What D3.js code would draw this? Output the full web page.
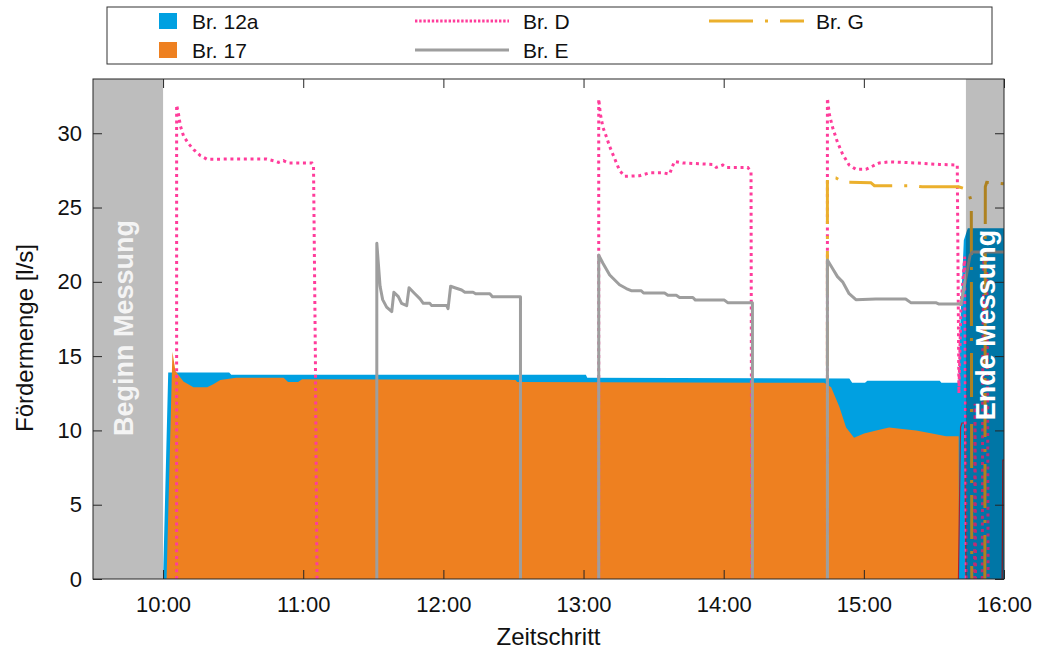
<!DOCTYPE html>
<html><head><meta charset="utf-8">
<script src="https://cdn.jsdelivr.net/npm/d3@7/dist/d3.min.js"></script>
<style>
body{margin:0;background:#fff}
text{font-family:"Liberation Sans",Arial,Helvetica,sans-serif}
</style>
</head><body>
<svg id="chart" width="1042" height="653"></svg>
<script>
// ---- data (time = minutes after 10:00, value = l/s) ----
const xTickValues = [0, 60, 120, 180, 240, 300, 360];
const xTickLabels = ["10:00", "11:00", "12:00", "13:00", "14:00", "15:00", "16:00"];
const yTickValues = [0, 5, 10, 15, 20, 25, 30];
const seriesNames = ["Br. 12a", "Br. 17", "Br. D", "Br. E", "Br. G"];
const bandBegin = [-30, 0];
const bandEnd = [343.7, 360];
const bandLabels = ["Beginn Messung", "Ende Messung"];

const br12a = [[0,0],[2.2,13.9],[28.3,13.9],[29.2,13.75],[181,13.75],[181.6,13.55],[293.8,13.5],[295,13.2],
  [300.5,13.2],[301.5,13.35],[332.5,13.35],[333.2,13.2],[340.5,13.2],[341.5,18],[342.8,22.8],[344.5,23.6],[360,23.6]];

const br17 = [[1.5,0],[4.0,15.3],[5.3,14.0],[8.7,13.3],[13.0,12.9],[18.9,12.9],[21.5,13.1],[24.5,13.4],[31.3,13.55],
  [51.6,13.55],[53.5,13.25],[57.8,13.25],[59.5,13.45],[150.9,13.4],[151.6,13.25],[283,13.2],[286,12.9],[289.5,11.6],
  [292.4,10.2],[295.8,9.5],[300.1,9.8],[305.3,10.0],[310.8,10.2],[316.4,10.1],[322.4,10.0],[329.2,9.8],[335.2,9.6],
  [340.6,9.6],[340.7,0]];

const br17Edge = [[340.5,0],[341.4,10.2],[342,10.5],[343.2,10.5],[343.7,0],null,[359.2,0],[359.5,8],[360,8]];

const brD = [[5.8,0],[5.8,31.9],[6.6,31.3],[7.4,30.5],[8.8,29.8],[10.9,29.3],[13.1,28.9],[15.9,28.5],[18.8,28.25],
  [27.4,28.26],[44.4,28.26],[47.3,28.15],[49.4,28.04],[51.5,28.15],[53.7,28.0],[63.7,28.0],[64.4,27.8],[65.2,15],[65.9,0],null,
  [186.5,0],[186.5,32.3],[187.2,31.3],[188.3,30.4],[189.7,29.8],[191.2,29.1],[193.3,28.3],[195.4,27.5],[197.6,27.1],
  [204.0,27.14],[208.3,27.34],[213.9,27.34],[216.8,27.25],[218.9,28.1],[222.5,28.0],[235.3,27.9],[236.8,27.7],[239.6,27.86],
  [241.0,27.7],[250.3,27.7],[251.7,27.4],[252.0,0],null,
  [284.4,0],[284.4,32.35],[285.2,31.3],[286.6,30.4],[288.7,29.4],[290.9,28.6],[293.7,27.86],[296.6,27.57],[300.9,27.57],
  [306.6,28.0],[310.9,28.07],[322.3,28.0],[332.2,27.9],[340.0,27.86],[340.7,12.5],[341.6,18.5],[343.2,21.7],[343.8,0],null,
  [347.4,0],[347.6,11.8],[347.8,0],null,[350.7,0],[350.9,15],[351.4,21.5],[352.6,21.5],[353,12.2],[353.2,0]];

const brE = [[91.5,0],[91.5,22.6],[92.9,19.7],[94.0,18.8],[95.7,18.3],[97.9,18.0],[98.8,19.3],[100.7,19.0],[102.1,18.55],
  [104.3,18.4],[105.3,19.6],[107.8,19.2],[110,18.85],[111.4,18.55],[114.2,18.55],[115,18.4],[121.4,18.4],[122,18.2],
  [123.1,19.7],[124.9,19.6],[127.8,19.45],[129.2,19.3],[132.7,19.3],[133.8,19.2],[139.9,19.2],[141,19.0],[153,19.0],[153,0],null,
  [186.5,0],[186.5,21.8],[188.3,21.25],[191.2,20.46],[195.4,19.8],[198.3,19.55],[200.4,19.4],[204.7,19.4],[205.7,19.25],
  [214.7,19.25],[216.1,19.1],[219.7,19.1],[221.1,18.95],[226.8,18.95],[227.9,18.77],[240.3,18.77],[241.7,18.6],[252.3,18.6],[252.3,0],null,
  [284.4,0],[284.4,21.47],[286.6,20.9],[288.7,20.35],[290.9,20.0],[293.7,19.2],[296.6,18.8],[305.1,18.85],[317.9,18.85],
  [320.1,18.6],[330.8,18.6],[332.2,18.5],[341.6,18.5],[345.5,21.8],[346.5,22.0],[360,22.0]];

const brG = [[284.4,0],[284.4,27.1],[288,27.0],[291,26.7],[303,26.67],[304.5,26.47],[321,26.47],[325,26.4],[340.5,26.4],
  [344.5,26.2],[346,25.4],[346.2,0],null,[351.8,0],[352,26.4],[352.6,26.7],[360,26.6]];

// ---- styles ----
const C = {blue:"#00A0E1", orange:"#EE8020", pink:"#FF3C9B", grey:"#9E9E9E", gold:"#EBB02D", edge:"#B0202E", axis:"#262626"};

const svg = d3.select("#chart");
const m = {left:93, right:1004, top:79, bottom:579};
const x = d3.scaleLinear().domain([-30, 360]).range([m.left, m.right]);
const y = d3.scaleLinear().domain([0, 33.65]).range([m.bottom, m.top]);

svg.append("defs").append("clipPath").attr("id","clip")
  .append("rect").attr("x",m.left).attr("y",m.top).attr("width",m.right-m.left).attr("height",m.bottom-m.top);

const plot = svg.append("g").attr("clip-path","url(#clip)");
const area = d3.area().x(d=>x(d[0])).y0(y(0)).y1(d=>y(d[1]));
const line = d3.line().defined(d=>d!=null).x(d=>x(d[0])).y(d=>y(d[1]));

plot.append("path").attr("d", area(br12a)).attr("fill", C.blue);
plot.append("path").attr("d", area(br17)).attr("fill", C.orange);
plot.append("path").attr("d", line(br17Edge)).attr("fill","none").attr("stroke",C.edge).attr("stroke-width",1.2);
plot.append("path").attr("d", line(brD)).attr("fill","none").attr("stroke",C.pink).attr("stroke-width",3).attr("stroke-dasharray","3 3.7");
plot.append("path").attr("d", line(brG)).attr("fill","none").attr("stroke",C.gold).attr("stroke-width",3).attr("stroke-dasharray","44 12 3 12");
plot.append("path").attr("d", line(brE)).attr("fill","none").attr("stroke",C.grey).attr("stroke-width",3).attr("stroke-linejoin","round");

// bands (overlay)
[bandBegin, bandEnd].forEach((b,i)=>{
  plot.append("rect").attr("x",x(b[0])).attr("y",m.top).attr("width",x(b[1])-x(b[0])).attr("height",m.bottom-m.top)
    .attr("fill","#000").attr("fill-opacity",0.26);
});
const bandTextY = [328, 325];
[bandBegin, bandEnd].forEach((b,i)=>{
  const cx = (x(b[0])+x(b[1]))/2 + (i==0 ? -4 : 1);
  svg.append("text").attr("transform",`translate(${cx},${bandTextY[i]}) rotate(-90)`)
    .attr("text-anchor","middle").attr("dominant-baseline","central")
    .attr("font-size",27).attr("font-weight","bold").attr("fill", i==0 ? "#F4F4F4" : "#FFFFFF")
    .text(bandLabels[i]);
});

// axes
const fmtX = (d)=> xTickLabels[xTickValues.indexOf(d)];
const gx = svg.append("g").attr("transform",`translate(0,${m.bottom})`)
  .call(d3.axisBottom(x).tickValues(xTickValues).tickFormat(fmtX).tickSizeInner(-9).tickSizeOuter(0).tickPadding(17));
const gy = svg.append("g").attr("transform",`translate(${m.left},0)`)
  .call(d3.axisLeft(y).tickValues(yTickValues).tickSizeInner(-9).tickSizeOuter(0).tickPadding(11));
svg.append("g").attr("transform",`translate(0,${m.top})`)
  .call(d3.axisTop(x).tickValues(xTickValues).tickFormat("").tickSizeInner(-9).tickSizeOuter(0));
svg.append("g").attr("transform",`translate(${m.right},0)`)
  .call(d3.axisRight(y).tickValues(yTickValues).tickFormat("").tickSizeInner(-9).tickSizeOuter(0));
svg.selectAll(".domain").remove();
svg.selectAll(".tick line").attr("stroke",C.axis);
svg.selectAll(".tick text").attr("font-size",22).attr("fill","#111").attr("font-family",'"Liberation Sans",Arial,sans-serif');
svg.append("rect").attr("x",m.left).attr("y",m.top).attr("width",m.right-m.left).attr("height",m.bottom-m.top)
  .attr("fill","none").attr("stroke",C.axis).attr("stroke-width",1);

svg.append("text").attr("x",(m.left+m.right)/2).attr("y",645).attr("text-anchor","middle")
  .attr("font-size",24).attr("fill","#111").text("Zeitschritt");
svg.append("text").attr("transform",`translate(33,338) rotate(-90)`).attr("text-anchor","middle")
  .attr("font-size",24).attr("fill","#111").text("Fördermenge [l/s]");

// legend
const lg = svg.append("g");
lg.append("rect").attr("x",107).attr("y",7).attr("width",885).attr("height",57).attr("fill","#fff").attr("stroke","#333");
const rows = [21, 50];
const legendItems = [
  {name:seriesNames[0], type:"box", color:C.blue, col:0, row:0},
  {name:seriesNames[1], type:"box", color:C.orange, col:0, row:1},
  {name:seriesNames[2], type:"line", color:C.pink, dash:"2.4 1.8", col:1, row:0},
  {name:seriesNames[3], type:"line", color:C.grey, dash:null, col:1, row:1},
  {name:seriesNames[4], type:"line", color:C.gold, dash:"44 12 3 12", col:2, row:0},
];
const colSym = [[159,177],[415,509],[709,804]];
const colText = [192, 523, 816];
legendItems.forEach(it=>{
  const cy = rows[it.row];
  const [a,b] = colSym[it.col];
  if(it.type=="box"){
    lg.append("rect").attr("x",a).attr("y",cy-8).attr("width",b-a).attr("height",16).attr("fill",it.color);
  } else {
    lg.append("line").attr("x1",a).attr("x2",b).attr("y1",cy).attr("y2",cy).attr("stroke",it.color)
      .attr("stroke-width",3).attr("stroke-dasharray",it.dash);
  }
  lg.append("text").attr("x",colText[it.col]).attr("y",cy).attr("dy","0.36em").attr("font-size",21).attr("fill","#111").text(it.name);
});
</script>
</body></html>
